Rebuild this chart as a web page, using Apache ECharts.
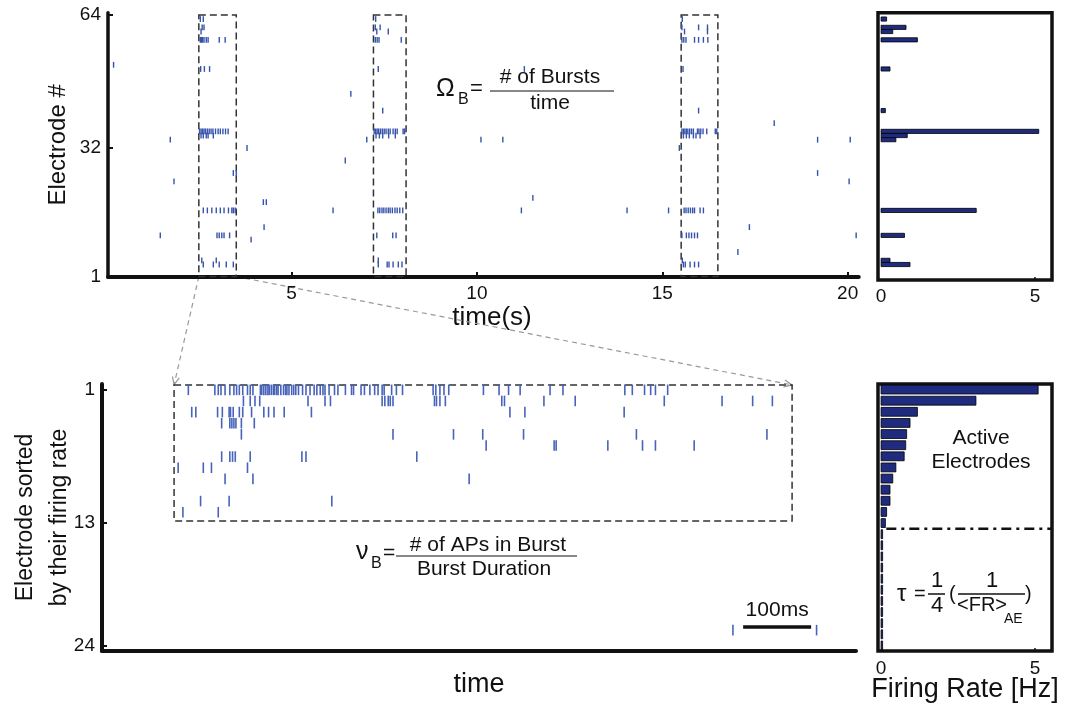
<!DOCTYPE html>
<html><head><meta charset="utf-8">
<script src="https://cdn.jsdelivr.net/npm/echarts@6/dist/echarts.min.js"></script>
<style>html,body{margin:0;padding:0;background:#fff}#c{width:1077px;height:711px}</style>
</head><body><div id="c"></div>
<script>
// ---------- tick labels ----------
const topXTicks = [5, 10, 15, 20];
const topYTicks = [1, 32, 64];
const bottomYTicks = [1, 13, 24];
const histXTicks = [0, 5];

// ---------- top raster: electrode rows and spike times (s) ----------
const topRasterRows = [63, 61, 60, 58, 52, 51, 45, 41, 38, 36, 35, 34, 32, 29, 26, 24, 20, 19, 17, 13, 11, 10, 7, 5, 4];
const topRasterTimes = [
  [2.54, 2.62, 7.27, 15.54],
  [2.59, 2.64, 7.26, 7.39, 15.53, 15.98, 16.22],
  [2.56, 7.30, 7.61, 15.60, 16.22],
  [2.54, 2.57, 2.60, 2.64, 2.70, 2.75, 3.05, 3.21, 7.26, 7.31, 7.36, 7.96, 15.53, 15.58, 15.64, 15.87, 15.98, 16.11, 16.23],
  [0.20],
  [2.55, 2.65, 2.79, 7.34, 11.28, 15.56],
  [6.60],
  [7.46, 15.98],
  [18.02],
  [2.52, 2.56, 2.60, 2.64, 2.68, 2.73, 2.78, 2.83, 2.88, 2.95, 3.02, 3.08, 3.15, 3.22, 3.29,
   7.23, 7.27, 7.31, 7.35, 7.40, 7.45, 7.50, 7.55, 7.61, 7.66, 7.74, 7.80, 7.85, 8.01, 8.05,
   15.53, 15.57, 15.61, 15.65, 15.69, 15.74, 15.79, 15.84, 15.95, 15.99, 16.04, 16.10, 16.20, 16.43, 16.47],
  [2.56, 2.62, 2.70, 2.75, 2.89, 7.28, 7.37, 7.46, 7.62, 7.80, 15.57, 15.65, 15.73, 15.84, 15.91, 16.02],
  [1.73, 7.03, 10.11, 10.70, 19.19, 20.07],
  [3.80, 15.46],
  [6.45],
  [3.43, 3.51, 19.19],
  [1.83, 20.04],
  [11.51],
  [4.24, 4.32],
  [2.62, 2.73, 2.85, 2.97, 3.08, 3.18, 3.30, 3.39, 3.43, 3.48, 6.12, 11.20, 14.05, 15.17,
   7.33, 7.38, 7.44, 7.49, 7.55, 7.61, 7.66, 7.72, 7.79, 7.85, 7.92, 8.00,
   15.59, 15.64, 15.70, 15.76, 15.82, 15.87, 16.02, 16.11],
  [4.26, 17.35],
  [1.46, 2.99, 3.05, 3.12, 3.18, 3.33, 7.30, 7.73, 7.82, 15.53, 15.65, 15.72, 15.79, 15.87, 15.95, 20.23],
  [3.91],
  [17.04],
  [2.58, 2.97, 7.34, 15.54],
  [2.62, 2.89, 3.05, 3.24, 3.43, 7.34, 7.58, 7.63, 7.74, 7.88, 7.98, 15.57, 15.62, 15.75, 15.87, 15.98]
];
// burst windows [start s, end s]
const burstStarts = [2.50, 7.21, 15.51];
const burstEnds = [3.51, 8.09, 16.50];

// ---------- top histogram: firing rate per electrode (Hz) ----------
const histElectrodes = [63, 61, 60, 58, 51, 41, 36, 35, 34, 17, 11, 5, 4];
const histRates = [0.18, 0.81, 0.38, 1.18, 0.29, 0.14, 5.12, 0.85, 0.48, 3.09, 0.76, 0.29, 0.94];

// ---------- bottom raster (zoom of first burst): sorted electrode rows, spike times (ms) ----------
const bottomRasterRows = [1, 2, 3, 4, 5, 6, 7, 8, 9, 11, 12];
const bottomRasterTimes = [
  [127,166,171,175,181,188,194,198,202,207,214,218,222,233,235,238,241,244,246,249,252,254,257,259,263,267,270,272,275,279,282,285,289,295,300,306,312,316,321,325,328,334,342,347,358,367,370,381,386,394,401,406,412,415,426,433,442,487,491,497,503,510,561,584,598,615,659,678,769,780,798,807,814,832],
  [208,218,225,232,303,328,336,412,416,421,424,428,489,492,497,505,588,592,650,696,827,912,957,986],
  [132,138,170,177,187,189,193,202,207,220,238,245,253,268,308,600,622,768],
  [176,188,191,194,197,205,224],
  [205,428,517,560,620,786,978],
  [565,665,668,744,795,814,871],
  [176,188,192,196,218,294,300,463],
  [112,149,161,214],
  [181,222,540],
  [145,187,338],
  [119,171]
];
const zoomWindowMs = [106, 1015];
const zoomWindowRows = [0.58, 12.81];
const scaleBarMs = [943, 1043];
const scaleBarRow = 22.35;
const scaleBarEdgeTimes = [928, 1051];
const scaleBarEdgeRow = 22.6;

// ---------- bottom histogram: sorted firing rates (Hz) ----------
const sortedRates = [5.10, 3.08, 1.18, 0.94, 0.83, 0.80, 0.75, 0.48, 0.38, 0.29, 0.29, 0.18, 0.14,
                     0.05, 0.05, 0.05, 0.05, 0.05, 0.05, 0.05, 0.05, 0.05, 0.05, 0.05];
const activeThresholdRow = 13.5;

// ---------- build ----------
const FONT = 'Liberation Sans, Arial, Helvetica, sans-serif';
const INK = '#111';
const topSpikeData = [];
topRasterRows.forEach((r, i) => topRasterTimes[i].forEach(t => topSpikeData.push([t, r])));
const bottomSpikeData = [];
bottomRasterRows.forEach((r, i) => bottomRasterTimes[i].forEach(t => bottomSpikeData.push([t, r])));
scaleBarEdgeTimes.forEach(t => bottomSpikeData.push([t, scaleBarEdgeRow]));
const burstBoxData = burstStarts.map((s, i) => [s, burstEnds[i], 1.1, 64]);
const topHistData = histElectrodes.map((e, i) => [histRates[i], e]);
const bottomHistData = sortedRates.map((v, i) => [v, i + 1]);

function tickRender(lo, hi, color, w) {
  return function (params, api) {
    const t = api.value(0), r = api.value(1);
    const a = api.coord([t, r - lo]), b = api.coord([t, r + hi]);
    return { type: 'line', shape: { x1: a[0], y1: a[1], x2: b[0], y2: b[1] },
      style: { stroke: color, lineWidth: w } };
  };
}
function boxRender(params, api) {
  const a = api.coord([api.value(0), api.value(2)]);
  const b = api.coord([api.value(1), api.value(3)]);
  return { type: 'rect', shape: { x: Math.min(a[0], b[0]), y: Math.min(a[1], b[1]),
      width: Math.abs(b[0] - a[0]), height: Math.abs(b[1] - a[1]) },
    style: { fill: 'none', stroke: '#333', lineWidth: 1.5, lineDash: [7, 4] } };
}
function barRender(h) {
  return function (params, api) {
    const v = api.value(0), e = api.value(1);
    const a = api.coord([0, e - h / 2]), b = api.coord([v, e + h / 2]);
    return { type: 'rect', shape: { x: Math.min(a[0], b[0]), y: Math.min(a[1], b[1]),
        width: Math.abs(b[0] - a[0]), height: Math.abs(b[1] - a[1]) },
      style: { fill: '#1f2b7e', stroke: '#000', lineWidth: 0.8 } };
  };
}
const labelStyle = { fontSize: 19, color: INK, fontFamily: FONT };

const option = {
  animation: false,
  backgroundColor: '#fff',
  grid: [
    { left: 108, top: 12.8, width: 750.75, height: 264.2, containLabel: false, outerBoundsMode: 'none' },
    { left: 878, top: 12.8, width: 174, height: 267.1, show: true, borderColor: INK, borderWidth: 3.5, containLabel: false, outerBoundsMode: 'none' },
    { left: 102, top: 384, width: 754, height: 267, containLabel: false, outerBoundsMode: 'none' },
    { left: 878, top: 384, width: 174, height: 267, show: true, borderColor: INK, borderWidth: 3.5, containLabel: false, outerBoundsMode: 'none' }
  ],
  xAxis: [
    { gridIndex: 0, type: 'value', min: 0.05, max: 20.3,
      axisLine: { onZero: false, lineStyle: { color: INK, width: 4 } },
      axisTick: { inside: true, length: 5, customValues: topXTicks, lineStyle: { color: INK, width: 2 } },
      axisLabel: Object.assign({ customValues: topXTicks, margin: 7 }, labelStyle),
      splitLine: { show: false } },
    { gridIndex: 1, type: 'value', min: -0.1, max: 5.55,
      axisLine: { show: false },
      axisTick: { inside: true, length: 3, customValues: [5], lineStyle: { color: INK, width: 1.5 } },
      axisLabel: Object.assign({ customValues: histXTicks, margin: 7 }, labelStyle),
      splitLine: { show: false } },
    { gridIndex: 2, type: 'value', min: 0, max: 1109,
      axisLine: { onZero: false, lineStyle: { color: INK, width: 4 } },
      axisTick: { show: false }, axisLabel: { show: false }, splitLine: { show: false },
      name: 'time', nameLocation: 'middle', nameGap: 20, nameMoveOverlap: false,
      nameTextStyle: { fontSize: 27, color: INK, fontFamily: FONT } },
    { gridIndex: 3, type: 'value', min: -0.1, max: 5.55,
      axisLine: { show: false },
      axisTick: { inside: true, length: 3, customValues: [5], lineStyle: { color: INK, width: 1.5 } },
      axisLabel: Object.assign({ customValues: histXTicks, margin: 8 }, labelStyle),
      splitLine: { show: false },
      name: 'Firing Rate [Hz]', nameLocation: 'middle', nameGap: 25, nameMoveOverlap: false,
      nameTextStyle: { fontSize: 27, color: INK, fontFamily: FONT } }
  ],
  yAxis: [
    { gridIndex: 0, type: 'value', min: 1, max: 64.5,
      axisLine: { onZero: false, lineStyle: { color: INK, width: 3.5 } },
      axisTick: { inside: true, length: 5, customValues: topYTicks, lineStyle: { color: INK, width: 2 } },
      axisLabel: Object.assign({ customValues: topYTicks, margin: 7 }, labelStyle),
      splitLine: { show: false },
      name: 'Electrode #', nameLocation: 'middle', nameGap: 38, nameMoveOverlap: false,
      nameTextStyle: { fontSize: 24, color: INK, fontFamily: FONT } },
    { gridIndex: 1, type: 'value', min: 0.3, max: 64.5, show: false, splitLine: { show: false } },
    { gridIndex: 2, type: 'value', min: 0.5, max: 24.5, inverse: true,
      axisLine: { onZero: false, lineStyle: { color: INK, width: 4 } },
      axisTick: { inside: true, length: 5, customValues: bottomYTicks, lineStyle: { color: INK, width: 2 } },
      axisLabel: Object.assign({ customValues: bottomYTicks, margin: 7 }, labelStyle),
      splitLine: { show: false },
      name: 'Electrode sorted\nby their firing rate', nameLocation: 'middle', nameGap: 25, nameMoveOverlap: false,
      nameTextStyle: { fontSize: 23, color: INK, fontFamily: FONT, lineHeight: 34, align: 'center' } },
    { gridIndex: 3, type: 'value', min: 0.5, max: 24.5, inverse: true, show: false, splitLine: { show: false } }
  ],
  series: [
    { type: 'custom', xAxisIndex: 0, yAxisIndex: 0, silent: true, renderItem: boxRender,
      encode: { x: [0, 1], y: [2, 3] }, data: burstBoxData },
    { type: 'custom', xAxisIndex: 0, yAxisIndex: 0, silent: true, renderItem: tickRender(0.7, 0.7, '#3653ac', 1.4),
      encode: { x: 0, y: 1 }, data: topSpikeData },
    { type: 'custom', xAxisIndex: 1, yAxisIndex: 1, silent: true, renderItem: barRender(1.0),
      encode: { x: 0, y: 1 }, data: topHistData },
    { type: 'custom', xAxisIndex: 2, yAxisIndex: 2, silent: true, renderItem: boxRender,
      encode: { x: [0, 1], y: [2, 3] }, data: [[zoomWindowMs[0], zoomWindowMs[1], zoomWindowRows[0], zoomWindowRows[1]]] },
    { type: 'custom', xAxisIndex: 2, yAxisIndex: 2, silent: true, renderItem: tickRender(0.45, 0.5, '#4863ba', 1.6),
      encode: { x: 0, y: 1 }, data: bottomSpikeData },
    { type: 'custom', xAxisIndex: 2, yAxisIndex: 2, silent: true,
      encode: { x: [0, 1], y: 2 }, data: [[scaleBarMs[0], scaleBarMs[1], scaleBarRow]],
      renderItem: function (params, api) {
        const a = api.coord([api.value(0), api.value(2)]), b = api.coord([api.value(1), api.value(2)]);
        return { type: 'group', children: [
          { type: 'line', shape: { x1: a[0], y1: a[1], x2: b[0], y2: b[1] }, style: { stroke: INK, lineWidth: 3.5 } },
          { type: 'text', style: { text: (api.value(1) - api.value(0)) + 'ms', x: (a[0] + b[0]) / 2, y: a[1] - 6,
              align: 'center', verticalAlign: 'bottom', fontSize: 21, fontFamily: FONT, fill: INK } }
        ] };
      } },
    { type: 'custom', xAxisIndex: 3, yAxisIndex: 3, silent: true, renderItem: barRender(0.8),
      encode: { x: 0, y: 1 }, data: bottomHistData },
    { type: 'custom', xAxisIndex: 3, yAxisIndex: 3, silent: true,
      encode: { x: [0, 1], y: 2 }, data: [[0.17, 5.55, activeThresholdRow]],
      renderItem: function (params, api) {
        const a = api.coord([api.value(0), api.value(2)]), b = api.coord([api.value(1), api.value(2)]);
        return { type: 'line', shape: { x1: a[0], y1: a[1], x2: b[0], y2: b[1] },
          style: { stroke: INK, lineWidth: 2.5, lineDash: [10, 5, 3, 5] } };
      } }
  ],
  graphic: []
};

function txt(text, x, y, size, align, extra) {
  return Object.assign({ type: 'text', silent: true, style: { text: text, x: x, y: y, fontSize: size, fontFamily: FONT,
    fill: INK, align: align || 'center', verticalAlign: 'middle' } }, extra || {});
}
function hline(x1, x2, y, w) {
  return { type: 'line', silent: true, shape: { x1: x1, y1: y, x2: x2, y2: y }, style: { stroke: INK, lineWidth: w || 1.2 } };
}
const texts = [
  txt('time(s)', 492, 318, 26),
  // Omega_B formula
  txt('\u03A9', 436, 89, 25, 'left'), txt('B', 458, 100, 16, 'left'), txt('=', 470, 89, 22, 'left'),
  hline(490, 614, 91), txt('# of Bursts', 550, 77, 21), txt('time', 550, 103, 21),
  // nu_B formula
  txt('\u03BD', 356, 552, 25, 'left'), txt('B', 371, 564, 16, 'left'), txt('=', 383, 553, 21, 'left'),
  hline(396, 577, 556), txt('# of APs in Burst', 488, 545, 21), txt('Burst Duration', 484, 569, 21),
  // Active electrodes
  txt('Active', 981, 438, 21), txt('Electrodes', 981, 462, 21),
  // tau formula
  txt('\u03C4', 897, 594, 24, 'left'), txt('=', 914, 594, 20, 'left'),
  txt('1', 937, 581, 22), hline(928, 945, 594, 1.5), txt('4', 937, 606, 22),
  txt('(', 949, 594, 20, 'left'), txt('1', 992, 581, 22), hline(958, 1025, 594, 1.5),
  txt('<FR>', 957, 605, 20, 'left'), txt('AE', 1004, 619, 14, 'left'), txt(')', 1025, 594, 20, 'left')
];

const chart = echarts.init(document.getElementById('c'), null, { renderer: 'canvas' });
option.graphic = texts;
chart.setOption(option);

// dashed connectors from first burst box to the zoomed window
const p1 = chart.convertToPixel({ gridIndex: 0 }, [burstStarts[0], 1.1]);
const p2 = chart.convertToPixel({ gridIndex: 0 }, [burstEnds[0], 1.1]);
const q1 = chart.convertToPixel({ gridIndex: 2 }, [zoomWindowMs[0], zoomWindowRows[0]]);
const q2 = chart.convertToPixel({ gridIndex: 2 }, [zoomWindowMs[1], zoomWindowRows[0]]);
function connector(a, b) {
  const dx = b[0] - a[0], dy = b[1] - a[1], L = Math.hypot(dx, dy);
  const ux = dx / L, uy = dy / L, nx = -uy, ny = ux;
  const w1 = [b[0] - 8 * ux + 3.5 * nx, b[1] - 8 * uy + 3.5 * ny];
  const w2 = [b[0] - 8 * ux - 3.5 * nx, b[1] - 8 * uy - 3.5 * ny];
  return [
    { type: 'line', silent: true, shape: { x1: a[0], y1: a[1], x2: b[0], y2: b[1] },
      style: { stroke: '#999', lineWidth: 1.2, lineDash: [5, 4] } },
    { type: 'polyline', silent: true, shape: { points: [w1, b, w2] }, style: { stroke: '#999', lineWidth: 1.2, fill: 'none' } }
  ];
}
chart.setOption({ graphic: texts.concat(connector(p1, q1), connector(p2, q2)) });
</script>
</body></html>
